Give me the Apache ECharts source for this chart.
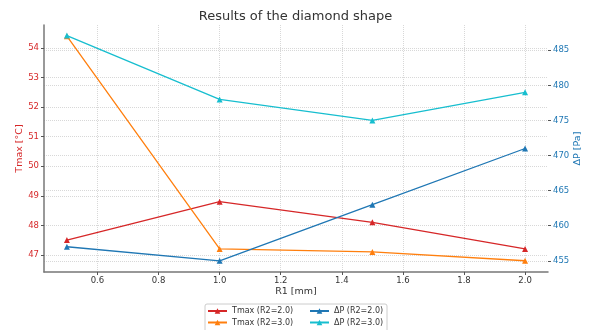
<!DOCTYPE html>
<html lang="en" style="height: 100%">
<head>
  <meta charset="utf-8">
</head>
<body style="height: 100%; margin: 0; background: #fff">
  <div id="container" style="width: 591px; height: 330px"></div>

  <script type="text/javascript" src="https://cdn.jsdelivr.net/npm/echarts@6/dist/echarts.min.js"></script>

  <script type="text/javascript">
    // data
    var r1 = [0.5, 1.0, 1.5, 2.0];
    var tmaxR2_2 = [47.5, 48.8, 48.1, 47.2];
    var tmaxR2_3 = [54.4, 47.2, 47.1, 46.8];
    var dpR2_2 = [457, 455, 463, 471];
    var dpR2_3 = [487.1, 478, 475, 479];

    var xTicks = [0.6, 0.8, 1.0, 1.2, 1.4, 1.6, 1.8, 2.0];
    var tTicks = [47, 48, 49, 50, 51, 52, 53, 54];
    var pTicks = [455, 460, 465, 470, 475, 480, 485];

    var font = 'DejaVu Sans';
    var red = '#d62728', orange = '#ff7f0e', blue = '#1f77b4', cyan = '#17becf';

    function pairs(xs, ys) {
      return xs.map(function (x, i) { return [x, ys[i]]; });
    }

    function mkSeries(name, ys, color, yIdx) {
      return {
        name: name,
        type: 'line',
        yAxisIndex: yIdx,
        data: pairs(r1, ys),
        symbol: 'triangle',
        symbolSize: 6,
        lineStyle: { color: color, width: 1.3 },
        itemStyle: { color: color },
        animation: false
      };
    }

    var grid = { color: '#d8d8d8', type: [1, 1], width: 1 };

    var myChart = echarts.init(document.getElementById('container'), null, { renderer: 'canvas' });

    var option = {
      backgroundColor: '#fff',
      textStyle: { fontFamily: font },
      title: {
        text: 'Results of the diamond shape',
        left: 'center',
        top: 5,
        textStyle: { fontFamily: font, fontSize: 13, fontWeight: 'normal', color: '#333' }
      },
      grid: { left: 44, right: 43, top: 25, bottom: 58, outerBoundsMode: 'none', containLabel: false },
      xAxis: {
        type: 'value',
        min: 0.425,
        max: 2.075,
        name: 'R1 [mm]',
        nameLocation: 'middle',
        nameGap: 15,
        nameMoveOverlap: false,
        nameTextStyle: { fontFamily: font, fontSize: 9.5, color: '#333' },
        axisLine: { show: true, lineStyle: { color: '#777', width: 1.5 } },
        axisTick: { show: true, length: 3, customValues: xTicks, lineStyle: { color: '#555' } },
        axisLabel: {
          customValues: xTicks, margin: 4, fontSize: 8.5, color: '#333',
          formatter: function (v) { return v.toFixed(1); }
        },
        splitLine: { show: true, lineStyle: grid }
      },
      yAxis: [{
        type: 'value',
        position: 'left',
        min: 46.42,
        max: 54.78,
        name: 'Tmax [°C]',
        nameLocation: 'middle',
        nameGap: 19,
        nameMoveOverlap: false,
        nameTextStyle: { fontFamily: font, fontSize: 9.5, color: red },
        axisLine: { show: true, lineStyle: { color: '#777', width: 1.5 } },
        axisTick: { show: true, length: 3, customValues: tTicks, lineStyle: { color: '#555' } },
        axisLabel: { customValues: tTicks, margin: 5, fontSize: 8.5, color: red },
        splitLine: { show: true, lineStyle: grid }
      }, {
        type: 'value',
        position: 'right',
        min: 453.4,
        max: 488.6,
        name: 'ΔP [Pa]',
        nameLocation: 'middle',
        nameGap: 25,
        nameRotate: 90,
        nameMoveOverlap: false,
        nameTextStyle: { fontFamily: font, fontSize: 9.5, color: blue },
        axisLine: { show: false },
        axisTick: { show: true, length: 3, customValues: pTicks, lineStyle: { color: '#555' } },
        axisLabel: { customValues: pTicks, margin: 5, fontSize: 8.5, color: blue },
        splitLine: { show: true, lineStyle: grid }
      }],
      legend: [{
        orient: 'vertical',
        left: 207,
        top: 307,
        padding: 0,
        itemGap: 3.5,
        itemWidth: 19,
        itemHeight: 7,
        textStyle: { fontFamily: font, fontSize: 8, color: '#333' },
        data: ['Tmax (R2=2.0)', 'Tmax (R2=3.0)']
      }, {
        orient: 'vertical',
        left: 309,
        top: 307,
        padding: 0,
        itemGap: 3.5,
        itemWidth: 19,
        itemHeight: 7,
        textStyle: { fontFamily: font, fontSize: 8, color: '#333' },
        data: ['ΔP (R2=2.0)', 'ΔP (R2=3.0)']
      }],
      graphic: [{
        type: 'rect',
        shape: { x: 205, y: 304, width: 182, height: 30, r: 2 },
        style: { fill: '#fff', stroke: '#ccc', lineWidth: 1 },
        z: 0
      }],
      series: [
        mkSeries('Tmax (R2=2.0)', tmaxR2_2, red, 0),
        mkSeries('Tmax (R2=3.0)', tmaxR2_3, orange, 0),
        mkSeries('ΔP (R2=2.0)', dpR2_2, blue, 1),
        mkSeries('ΔP (R2=3.0)', dpR2_3, cyan, 1)
      ]
    };

    myChart.setOption(option);
    window.addEventListener('resize', myChart.resize);
  </script>
</body>
</html>
